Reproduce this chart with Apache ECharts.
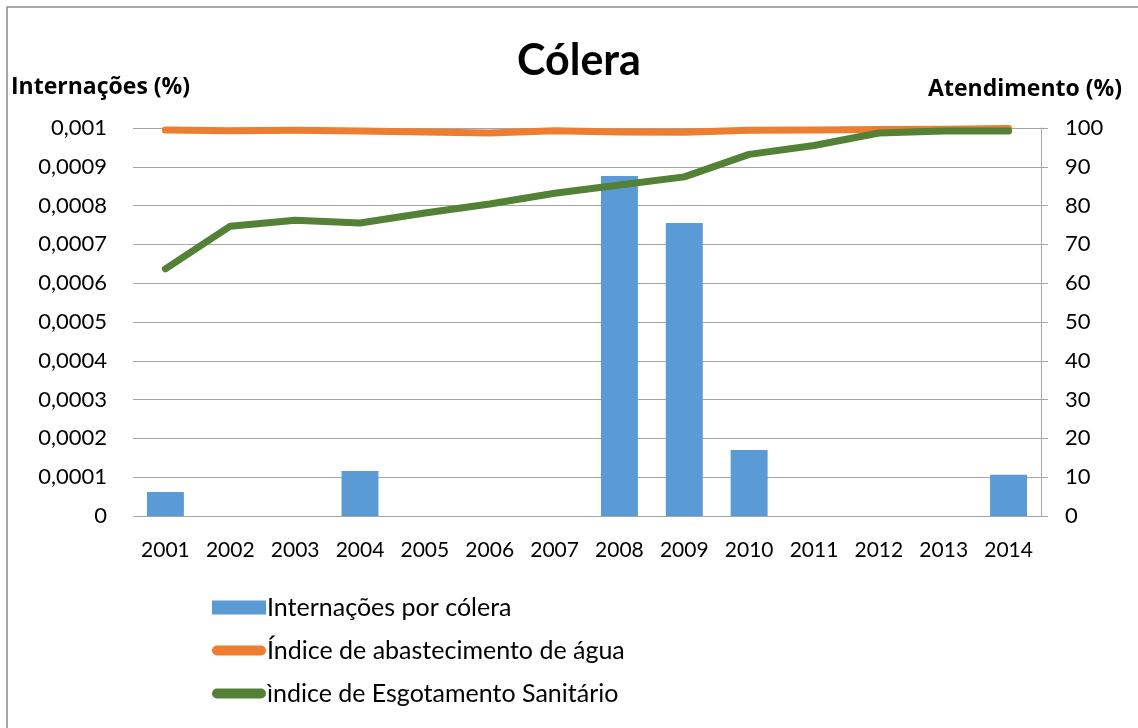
<!DOCTYPE html>
<html>
<head>
<meta charset="utf-8">
<style>
  html, body { margin: 0; padding: 0; background: #fff; }
  #chart { width: 1138px; height: 728px; }
</style>
<script src="https://cdn.jsdelivr.net/npm/echarts@6/dist/echarts.min.js"></script>
</head>
<body>
<div id="chart"></div>
<script>
// dados
var anos = ['2001', '2002', '2003', '2004', '2005', '2006', '2007', '2008', '2009', '2010', '2011', '2012', '2013', '2014']
var internacoes = [0.000062, 0, 0, 0.000116, 0, 0, 0, 0.000876, 0.000755, 0.00017, 0, 0, 0, 0.000106]
var abastecimento = [99.5, 99.3, 99.4, 99.2, 99.0, 98.7, 99.3, 99.0, 98.9, 99.4, 99.5, 99.6, 99.7, 99.9]
var esgotamento = [63.7, 74.7, 76.2, 75.5, 78.1, 80.4, 83.2, 85.3, 87.4, 93.2, 95.5, 98.7, 99.2, 99.2]
var ticksEsquerda = ['0', '0,0001', '0,0002', '0,0003', '0,0004', '0,0005', '0,0006', '0,0007', '0,0008', '0,0009', '0,001']

var nomes = ['Internações por cólera', 'Índice de abastecimento de água', 'ìndice de Esgotamento Sanitário']
var fonte = 'Lato, "Noto Sans", sans-serif'
var fonteNegrito = '"Open Sans", Lato, sans-serif'
var iconeLinha = 'path://M0,0M54,14M5,2H49A5,5 0 0 1 49,12H5A5,5 0 0 1 5,2Z'

var chart = echarts.init(document.getElementById('chart'))
chart.setOption({
  animation: false,
  textStyle: { fontFamily: fonte },
  graphic: [{
    type: 'rect',
    shape: { x: 7, y: 7, width: 1300, height: 900 },
    style: { fill: 'none', stroke: '#8c8c8c', lineWidth: 1.5 }
  }],
  title: [
    { text: 'Cólera', left: 512, top: 35, textStyle: { fontFamily: fonte, fontSize: 43, fontWeight: 'bold', color: '#000' } },
    { text: 'Internações (%)', left: 6, top: 71, textStyle: { fontFamily: fonteNegrito, fontSize: 23, fontWeight: 'bold', color: '#000' } },
    { text: 'Atendimento (%)', right: 11, top: 73, textStyle: { fontFamily: fonteNegrito, fontSize: 23, fontWeight: 'bold', color: '#000' } }
  ],
  grid: { left: 133, right: 97, top: 128, bottom: 212 },
  legend: {
    orient: 'vertical',
    left: 207,
    top: 590,
    itemWidth: 54,
    itemHeight: 14,
    itemGap: 18,
    textStyle: { fontFamily: fonte, fontSize: 25, color: '#000', padding: [0, 0, 0, -4] },
    data: [
      { name: nomes[0], icon: 'rect' },
      { name: nomes[1], icon: iconeLinha },
      { name: nomes[2], icon: iconeLinha }
    ]
  },
  xAxis: {
    type: 'category',
    data: anos,
    axisLine: { show: false },
    axisTick: { show: false },
    axisLabel: { fontFamily: fonte, fontSize: 21, color: '#000', margin: 24 }
  },
  yAxis: [
    {
      type: 'value',
      min: 0,
      max: 0.001,
      interval: 0.0001,
      axisLine: { show: false },
      axisTick: { show: false },
      splitLine: { lineStyle: { color: '#a6a6a6', width: 1 } },
      axisLabel: {
        fontFamily: fonte, fontSize: 22, color: '#000', margin: 26,
        formatter: function (v) { return ticksEsquerda[Math.round(v / 0.0001)] }
      }
    },
    {
      type: 'value',
      min: 0,
      max: 100,
      interval: 10,
      position: 'right',
      axisLine: { show: true, lineStyle: { color: '#a6a6a6', width: 1 } },
      axisTick: { show: true, length: 7, lineStyle: { color: '#a6a6a6' } },
      splitLine: { show: false },
      axisLabel: { fontFamily: fonte, fontSize: 22, color: '#000', margin: 24 }
    }
  ],
  series: [
    {
      name: nomes[0],
      type: 'bar',
      data: internacoes,
      barWidth: '57%',
      itemStyle: { color: '#5b9bd5' }
    },
    {
      name: nomes[1],
      type: 'line',
      yAxisIndex: 1,
      data: abastecimento,
      symbol: 'none',
      itemStyle: { color: '#ed7d31' },
      lineStyle: { color: '#ed7d31', width: 7, cap: 'round', join: 'round' }
    },
    {
      name: nomes[2],
      type: 'line',
      yAxisIndex: 1,
      data: esgotamento,
      symbol: 'none',
      itemStyle: { color: '#538135' },
      lineStyle: { color: '#538135', width: 7, cap: 'round', join: 'round' }
    }
  ]
})
</script>
</body>
</html>
